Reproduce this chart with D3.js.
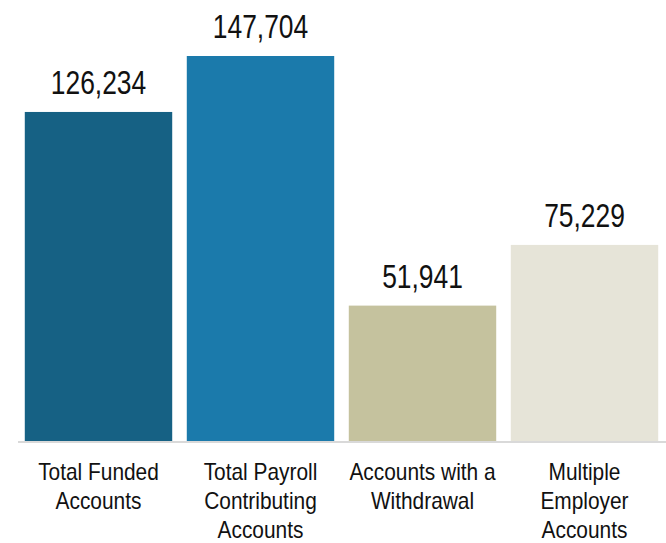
<!DOCTYPE html>
<html>
<head>
<meta charset="utf-8">
<script src="https://cdn.jsdelivr.net/npm/d3@7"></script>
<style>
  html, body { margin: 0; padding: 0; background: #ffffff; }
  svg { display: block; }
  text { font-family: "Liberation Sans", Arial, sans-serif; fill: #111; }
</style>
</head>
<body>
<svg id="chart" width="666" height="543"></svg>
<script>
// Account counts by category
const categories = [
  ["Total Funded", "Accounts"],
  ["Total Payroll", "Contributing", "Accounts"],
  ["Accounts with a", "Withdrawal"],
  ["Multiple", "Employer", "Accounts"]
];
const values = [126234, 147704, 51941, 75229];
const colors = ["#166184", "#1b7aab", "#c5c29e", "#e6e4d8"];

const svg = d3.select("#chart");
const W = 666;
const narrowValue = 0.8;  // condensed lettering for value labels
const narrowCat = 0.87;   // condensed lettering for category labels

const x = d3.scaleBand()
  .domain(d3.range(values.length))
  .range([17.5, 665.5])
  .paddingInner(0.09)
  .paddingOuter(0.045);

const y = d3.scaleLinear()
  .domain([0, 147704])
  .range([441, 56]);

// bars
svg.selectAll("rect.bar")
  .data(values)
  .join("rect")
  .attr("class", "bar")
  .attr("x", (d, i) => x(i))
  .attr("width", x.bandwidth())
  .attr("y", d => y(d))
  .attr("height", d => y(0) - y(d))
  .attr("fill", (d, i) => colors[i]);

// baseline
svg.append("line")
  .attr("x1", 18).attr("x2", W)
  .attr("y1", y(0) + 1).attr("y2", y(0) + 1)
  .attr("stroke", "#d9d9d9")
  .attr("stroke-width", 2);

// value labels
const fmt = d3.format(",");
svg.selectAll("text.value")
  .data(values)
  .join("text")
  .attr("class", "value")
  .attr("transform", (d, i) => `translate(${x(i) + x.bandwidth() / 2},${y(d) - 18}) scale(${narrowValue},1)`)
  .attr("text-anchor", "middle")
  .attr("font-size", 33)
  .text(d => fmt(d));

// category labels
const cat = svg.selectAll("text.cat")
  .data(categories)
  .join("text")
  .attr("class", "cat")
  .attr("text-anchor", "middle")
  .attr("font-size", 24)
  .attr("transform", (d, i) => `translate(${x(i) + x.bandwidth() / 2},480) scale(${narrowCat},1)`);

cat.selectAll("tspan")
  .data(d => d)
  .join("tspan")
  .attr("x", 0)
  .attr("dy", (d, j) => j === 0 ? 0 : 29)
  .text(d => d);
</script>
</body>
</html>
